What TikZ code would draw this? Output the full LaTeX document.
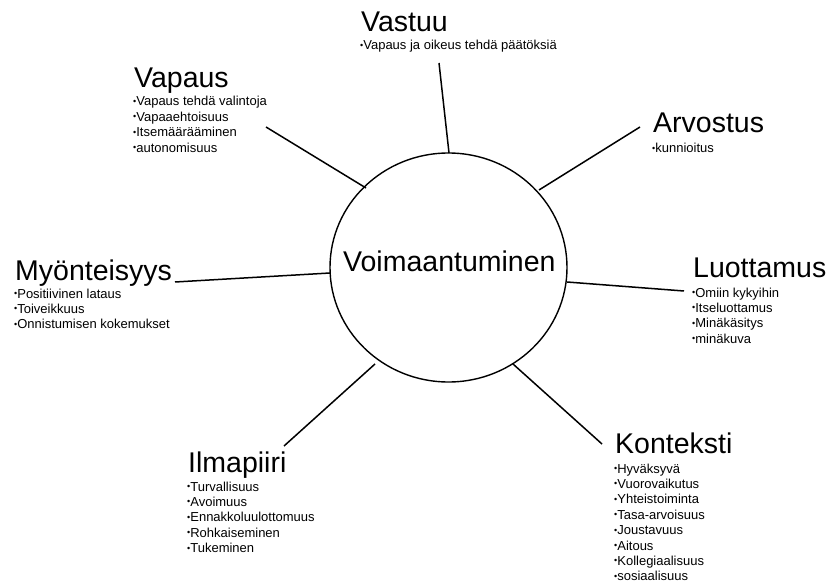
\documentclass[tikz,border=0pt]{standalone}
\usepackage{fontspec}
\setmainfont{Liberation Sans}
\usetikzlibrary{shapes.geometric}
\newcommand\bul{\raisebox{0.12em}{\fontsize{9bp}{9bp}\selectfont •}}
\newcommand\itemlist[1]{\begin{tabular}[t]{@{}l@{}}#1\end{tabular}}
\begin{document}
\begin{tikzpicture}[x=1bp,y=-1bp,
  ttl/.style={anchor=base west, inner sep=0, font=\fontsize{28.5bp}{34bp}\selectfont},
  items/.style={anchor=base west, inner sep=0, font=\fontsize{13bp}{15.4bp}\selectfont},
  spoke/.style={line width=1.5bp, black},
  hub/.style={draw, ellipse, line width=1.4bp, inner sep=0}]
\useasboundingbox[fill=white] (0,0) rectangle (832,584);

% centre
\node[hub, minimum width=237bp, minimum height=229bp] (c) at (448.5,267.5) {};
\node[ttl] (vo) at (343,271) {Voimaantuminen};

% Vastuu
\node[ttl] (vastuu) at (361,32) {Vastuu};
\node[items] (vastuuL) at (360,50) {\itemlist{\bul Vapaus ja oikeus tehdä päätöksiä}};
% Vapaus
\node[ttl] (vapaus) at (134,88) {Vapaus};
\node[items] (vapausL) at (133,106) {\itemlist{\bul Vapaus tehdä valintoja\\\bul Vapaaehtoisuus\\\bul Itsemäärääminen\\\bul autonomisuus}};
% Arvostus
\node[ttl] (arvostus) at (653,133) {Arvostus};
\node[items] (arvostusL) at (652,153) {\itemlist{\bul kunnioitus}};
% Myonteisyys
\node[ttl] (myon) at (15,280) {Myönteisyys};
\node[items] (myonL) at (14,298) {\itemlist{\bul Positiivinen lataus\\\bul Toiveikkuus\\\bul Onnistumisen kokemukset}};
% Luottamus
\node[ttl] (luot) at (693,277) {Luottamus};
\node[items] (luotL) at (692,297) {\itemlist{\bul Omiin kykyihin\\\bul Itseluottamus\\\bul Minäkäsitys\\\bul minäkuva}};
% Ilmapiiri
\node[ttl] (ilma) at (188,472) {Ilmapiiri};
\node[items] (ilmaL) at (187,491) {\itemlist{\bul Turvallisuus\\\bul Avoimuus\\\bul Ennakkoluulottomuus\\\bul Rohkaiseminen\\\bul Tukeminen}};
% Konteksti
\node[ttl] (kont) at (615,453) {Konteksti};
\node[items] (kontL) at (614,473) {\itemlist{\bul Hyväksyvä\\\bul Vuorovaikutus\\\bul Yhteistoiminta\\\bul Tasa-arvoisuus\\\bul Joustavuus\\\bul Aitous\\\bul Kollegiaalisuus\\\bul sosiaalisuus}};

% connector ends
\coordinate (vastuuA) at (439,63);   \coordinate (vastuuB) at (449,153);
\coordinate (vapausA) at (266,127);  \coordinate (vapausB) at (366,188);
\coordinate (arvA) at (640,127);     \coordinate (arvB) at (539,190);
\coordinate (myonA) at (175,282);    \coordinate (myonB) at (330,273);
\coordinate (luotA) at (684,291);    \coordinate (luotB) at (567,282);
\coordinate (ilmaA) at (284,446);    \coordinate (ilmaB) at (375,364);
\coordinate (kontA) at (602,444);    \coordinate (kontB) at (513,364);

\draw[spoke] (vastuuA) -- (vastuuB);
\draw[spoke] (vapausA) -- (vapausB);
\draw[spoke] (arvA) -- (arvB);
\draw[spoke] (myonA) -- (myonB);
\draw[spoke] (luotA) -- (luotB);
\draw[spoke] (ilmaA) -- (ilmaB);
\draw[spoke] (kontA) -- (kontB);
\end{tikzpicture}
\end{document}
